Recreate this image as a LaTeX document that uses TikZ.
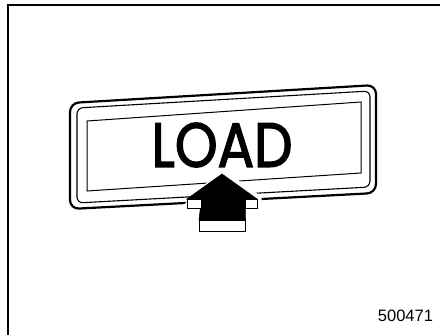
\documentclass[tikz,border=0pt]{standalone}
\usepackage{fontspec}
\setmainfont{Liberation Sans}
\newfontfamily\loadfont[FakeBold=2.3]{Poppins}
\begin{document}
\begin{tikzpicture}[x=1pt,y=-1pt,
  frameline/.style={line width=1.4pt,black},
  plateouter/.style={line width=2.2pt,rounded corners=9pt},
  platemid/.style={line width=1.1pt,rounded corners=6pt},
  plateinner/.style={line width=1pt},
  halo/.style={draw=white,fill=white,line width=9pt,line join=miter},
  arrowbody/.style={fill=black,draw=black,line width=0.6pt,line join=miter},
  arrowface/.style={fill=white,draw=black,line width=1pt}]
\useasboundingbox (0,0) rectangle (440,335);
\fill[white] (0,0) rectangle (440,335);
% frame
\coordinate (fbl) at (8,336);
\coordinate (ftl) at (8,5);
\coordinate (ftr) at (441,5);
\draw[frameline] (fbl) -- (ftl) -- (ftr);
% plate
\coordinate (o1) at (70,103);
\coordinate (o2) at (376,85);
\coordinate (o3) at (376,193);
\coordinate (o4) at (70,209);
\draw[plateouter] (o1) -- (o2) -- (o3) -- (o4) -- cycle;
\coordinate (m1) at (77,108);
\coordinate (m2) at (370,91);
\coordinate (m3) at (370,187);
\coordinate (m4) at (77,203);
\draw[platemid] (m1) -- (m2) -- (m3) -- (m4) -- cycle;
\coordinate (i1) at (87,121);
\coordinate (i2) at (361,102);
\coordinate (i3) at (361,173);
\coordinate (i4) at (87,191);
\draw[plateinner] (i1) -- (i2) -- (i3) -- (i4) -- cycle;
% text
\node[inner sep=0pt,anchor=center] (load) at (222,145)
  {\resizebox{141pt}{44pt}{\loadfont LOAD}};
% arrow
\coordinate (at) at (222,174);
\coordinate (ar) at (257,199);
\coordinate (al) at (187,199);
\coordinate (sr) at (245,199);
\coordinate (sl) at (201.5,199);
\coordinate (br) at (245.5,220);
\coordinate (bl) at (199,220);
\path[halo] (at) -- (ar) -- (257,208) -- (245.5,208) -- (245.5,231) -- (199,231) -- (199,208) -- (187,208) -- cycle;
\path[arrowbody] (at) -- (ar) -- (sr) -- (br) -- (bl) -- (sl) -- (al) -- cycle;
\draw[arrowface] (al) rectangle (201.5,208);
\draw[arrowface] (sr) rectangle (257,208);
\draw[arrowface] (bl) rectangle (245.5,231);
% number
\node[inner sep=0pt,font=\fontsize{16.5}{18}\selectfont] (num) at (405.5,316) {500471};
\end{tikzpicture}
\end{document}
